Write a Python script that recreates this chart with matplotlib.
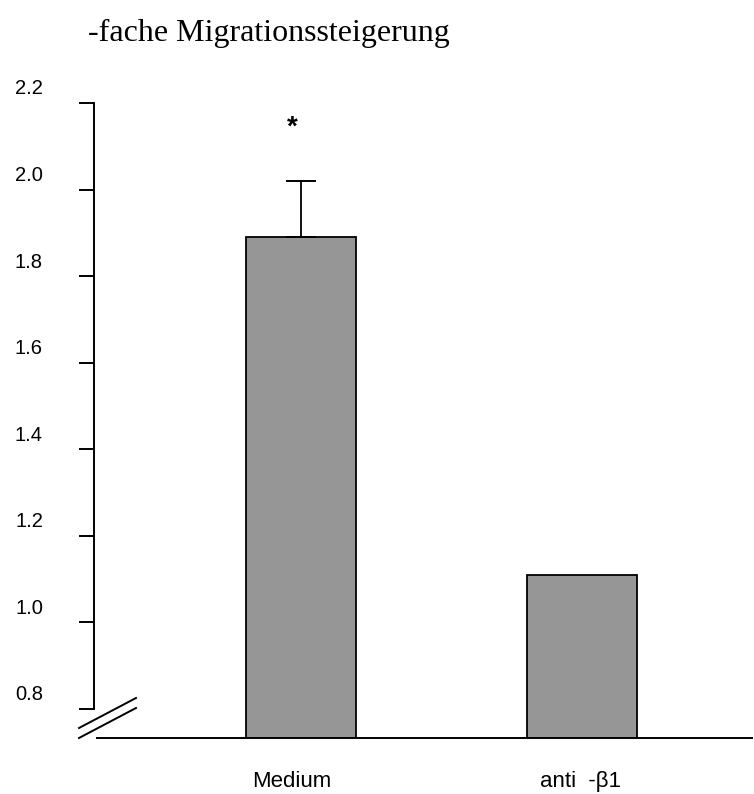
import matplotlib
matplotlib.use("Agg")
import matplotlib.pyplot as plt
import matplotlib.transforms as mtransforms

# values
categories = ["Medium", "anti  -\u03b21"]
values = [1.89, 1.11]
errors = [0.13, 0.0]
y_ticks = [0.8, 1.0, 1.2, 1.4, 1.6, 1.8, 2.0, 2.2]
title = "-fache Migrationssteigerung"

W, H = 754, 794
fig = plt.figure(figsize=(W / 100, H / 100), dpi=100)
# axes box in pixels: left 94, right 752, bottom 738, top 103
ax = fig.add_axes([94 / W, (H - 738) / H, (752 - 94) / W, (738 - 103) / H])

x = list(range(len(categories)))
ax.bar(x, values, width=0.39, color="#969696", edgecolor="black", linewidth=1.3, zorder=2)
ax.errorbar(x[0], values[0], yerr=[[0], [errors[0]]], fmt="none", ecolor="black",
            elinewidth=1.3, capsize=10.8, capthick=1.4, zorder=3)
ax.text(x[0] - 0.03, 2.142, "*", ha="center", va="center", fontsize=20,
        fontweight="bold", family="Liberation Sans")

ax.set_xlim(-0.737, 1.605)
ax.set_ylim(0.733, 2.2)

for s in ["top", "right"]:
    ax.spines[s].set_visible(False)
ax.spines["left"].set_bounds(0.8, 2.2)
ax.spines["left"].set_linewidth(1.4)
ax.spines["bottom"].set_bounds(-0.726, 1.605)
ax.spines["bottom"].set_linewidth(1.4)

ax.set_yticks(y_ticks)
ax.set_yticklabels([f"{v:.1f}" for v in y_ticks], family="Liberation Sans", fontsize=14.5)
ax.tick_params(axis="y", direction="out", length=10.8, width=1.4, pad=26)
offset = mtransforms.ScaledTranslation(0, 16 / 100, fig.dpi_scale_trans)
for lbl in ax.get_yticklabels():
    lbl.set_transform(lbl.get_transform() + offset)

ax.set_xticks(x)
ax.set_xticklabels(categories, family="Liberation Sans", fontsize=16)
ax.tick_params(axis="x", length=0, pad=24)
for lbl, dx in zip(ax.get_xticklabels(), (-9, -2)):
    lbl.set_transform(lbl.get_transform() +
                      mtransforms.ScaledTranslation(dx / 100, 0, fig.dpi_scale_trans))

# axis break marks
for dy in (0, 10):
    fig.add_artist(plt.Line2D([79 / W, 136 / W], [1 - (728 + dy) / H, 1 - (698 + dy) / H],
                              color="black", linewidth=1.4))

fig.text(88 / W, 1 - 41 / H, title, family="Liberation Serif", fontsize=23,
         ha="left", va="baseline")

fig.savefig("out.png", dpi=100)
